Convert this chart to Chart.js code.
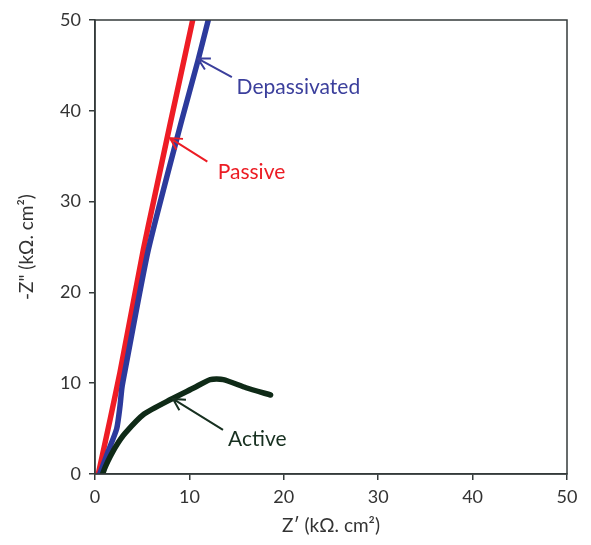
<!DOCTYPE html>
<html>
<head>
<meta charset="utf-8">
<script src="https://cdn.jsdelivr.net/npm/chart.js@4"></script>
<style>
  html, body { margin: 0; padding: 0; background: #fff; }
  #wrap { width: 591px; height: 545px; }
</style>
</head>
<body>
<div id="wrap"><canvas id="nyquist" width="591" height="545"></canvas></div>
<script>
// ===== DATA =====
const passiveX = [0.35, 1.6, 2.65, 5.12, 6.2, 7.95, 10.35];
const passiveY = [0, 6.0, 11.2, 24.7, 30, 38.5, 50];

const depassX = [0.5, 1.4, 2.3, 2.65, 2.85, 3.2, 5.65, 9.2, 10.9, 12.0];
const depassY = [0, 2.5, 5.0, 7.5, 9.5, 11.5, 24.7, 39, 45.5, 50];

const activeX = [0.8, 1.1, 1.6, 2.3, 3.2, 5.2, 8.0, 10.5, 12.2, 13.6, 16.0, 18.6];
const activeY = [0, 0.8, 1.9, 3.2, 4.5, 6.6, 8.2, 9.5, 10.4, 10.4, 9.5, 8.7];

const xTicks = [0, 10, 20, 30, 40, 50];
const yTicks = [0, 10, 20, 30, 40, 50];

// annotation labels: [text, tipX, tipY, tailX, tailY, textX, textY, colour]
const notes = [
    ['Depassivated', 10.9, 45.75, 14.5, 43.7, 15.0, 42.6, '#3b3f9c'],
    ['Passive', 7.95, 37.0, 11.9, 34.4, 13.0, 33.2, '#ec1c24'],
    ['Active', 8.26, 8.27, 13.56, 4.85, 14.1, 3.86, '#173020']
];

const toPoints = (xs, ys) => xs.map((x, i) => ({ x: x, y: ys[i] }));

const FONT = 'Lato, "Noto Sans", sans-serif';
const AXIS = '#353b3b';

// ===== FRAME + ARROWS =====
const framePlugin = {
    id: 'frame',
    afterDatasetsDraw(chart) {
        const { ctx, chartArea: a, scales } = chart;
        ctx.save();
        ctx.strokeStyle = AXIS;
        ctx.lineWidth = 1.5;
        ctx.strokeRect(a.left, a.top, a.right - a.left, a.bottom - a.top);

        notes.forEach(n => {
            const tx = scales.x.getPixelForValue(n[1]);
            const ty = scales.y.getPixelForValue(n[2]);
            const sx = scales.x.getPixelForValue(n[3]);
            const sy = scales.y.getPixelForValue(n[4]);
            const ang = Math.atan2(sy - ty, sx - tx);
            ctx.strokeStyle = n[7];
            ctx.lineWidth = 2;
            ctx.beginPath();
            ctx.moveTo(sx, sy);
            ctx.lineTo(tx, ty);
            const h = 13;
            ctx.moveTo(tx + h * Math.cos(ang + 0.5), ty + h * Math.sin(ang + 0.5));
            ctx.lineTo(tx, ty);
            ctx.lineTo(tx + h * Math.cos(ang - 0.5), ty + h * Math.sin(ang - 0.5));
            ctx.stroke();

            ctx.fillStyle = n[7];
            ctx.font = '21px ' + FONT;
            ctx.textBaseline = 'middle';
            ctx.textAlign = 'left';
            ctx.fillText(n[0], scales.x.getPixelForValue(n[5]), scales.y.getPixelForValue(n[6]));
        });
        ctx.restore();
    }
};

const line = (label, pts, colour) => ({
    label: label,
    data: pts,
    borderColor: colour,
    backgroundColor: colour,
    borderWidth: 5.5,
    pointRadius: 0,
    showLine: true,
    tension: 0.2,
    borderJoinStyle: 'round',
    borderCapStyle: 'round'
});

new Chart(document.getElementById('nyquist'), {
    type: 'scatter',
    data: {
        datasets: [
            line('Active', toPoints(activeX, activeY), '#0f2a17'),
            line('Depassivated', toPoints(depassX, depassY), '#2c3a9c'),
            line('Passive', toPoints(passiveX, passiveY), '#ee1c25')
        ]
    },
    options: {
        responsive: false,
        animation: false,
        layout: { padding: { top: 20, right: 24, left: 0, bottom: 0 } },
        plugins: {
            legend: { display: false },
            tooltip: { enabled: false }
        },
        scales: {
            x: {
                type: 'linear',
                min: 0,
                max: 50,
                afterBuildTicks: (s) => { s.ticks = xTicks.map(v => ({ value: v })); },
                afterFit: (s) => { s.height = 71; },
                grid: { drawOnChartArea: false, color: AXIS, tickLength: 6, lineWidth: 1.5 },
                border: { color: AXIS, width: 1.5 },
                ticks: { color: '#333', font: { family: FONT, size: 18 }, padding: 6 },
                title: {
                    display: true,
                    text: 'Z\u2032 (k\u03a9. cm\u00b2)',
                    color: '#333',
                    font: { family: FONT, size: 19 },
                    padding: { top: 2, bottom: 8 }
                }
            },
            y: {
                type: 'linear',
                min: 0,
                max: 50,
                afterBuildTicks: (s) => { s.ticks = yTicks.map(v => ({ value: v })); },
                afterFit: (s) => { s.width = 95; },
                grid: { drawOnChartArea: false, color: AXIS, tickLength: 6, lineWidth: 1.5 },
                border: { color: AXIS, width: 1.5 },
                ticks: { color: '#333', font: { family: FONT, size: 18 }, padding: 8 },
                title: {
                    display: true,
                    text: '-Z" (k\u03a9. cm\u00b2)',
                    color: '#333',
                    font: { family: FONT, size: 19 },
                    padding: { top: 15, bottom: 6 }
                }
            }
        }
    },
    plugins: [framePlugin]
});
</script>
</body>
</html>
